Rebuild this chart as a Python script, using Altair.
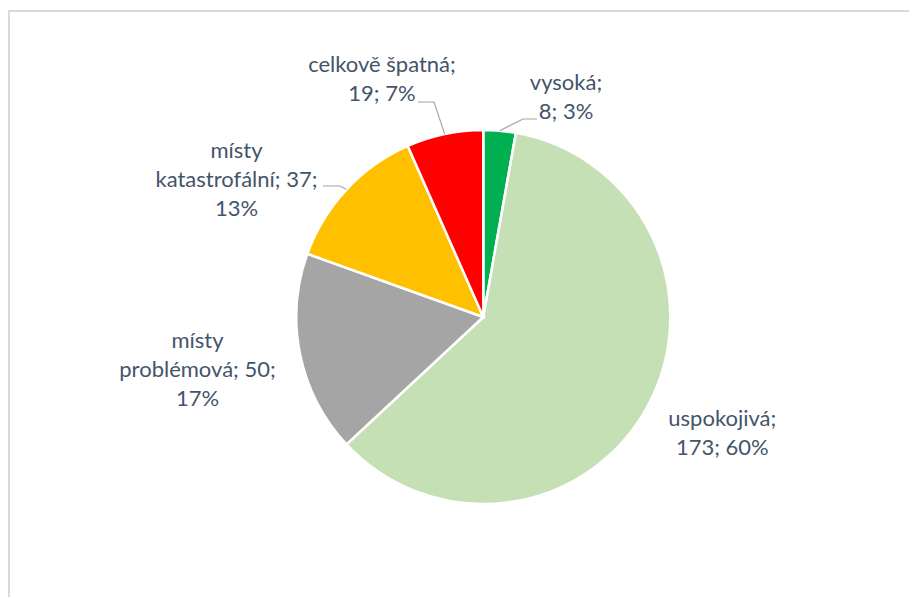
import math
import altair as alt
import pandas as pd

# ---- data ----
categories = ["vysoká", "uspokojivá", "místy problémová", "místy katastrofální", "celkově špatná"]
values = [8, 173, 50, 37, 19]
percents = ["3%", "60%", "17%", "13%", "7%"]
label_lines = [
    "vysoká;\n8; 3%",
    "uspokojivá;\n173; 60%",
    "místy\nproblémová; 50;\n17%",
    "místy\nkatastrofální; 37;\n13%",
    "celkově špatná;\n19; 7%",
]
colors = ["#00B050", "#C5E0B4", "#A5A5A5", "#FFC000", "#FF0000"]

# ---- layout (pixel space of the view) ----
W, H = 901, 587
CX, CY, R = 475.3, 307.0, 187.0
LH = 29
# label block centre offsets from the pie centre
label_dx = [82.7, 239.0, -285.8, -246.8, -101.3]
label_dy = [-220.0, 116.0, 53.0, -137.0, -237.5]
# leader line elbow/end offsets relative to the pie centre
leaders = {
    0: [(39.7, -198.0), (53.7, -198.0)],
    3: [(-143.3, -131.0), (-160.3, -131.0)],
    4: [(-49.3, -215.0), (-65.3, -215.0)],
}

total = sum(values)
pie = pd.DataFrame({
    "cat": categories,
    "value": values,
    "idx": list(range(len(values))),
})

# the first line of a multi-line text sits at y, so shift up by half the block
nlines = [t.count("\n") + 1 for t in label_lines]
lab = pd.DataFrame({
    "text": label_lines,
    "px": [CX + d for d in label_dx],
    "py": [CY + d - (n - 1) * LH / 2 for d, n in zip(label_dy, nlines)],
})

rows = []
cum = 0
mids = []
for v in values:
    mids.append((cum + v / 2) / total * 2 * math.pi)
    cum += v
for i, pts in leaders.items():
    a = mids[i]
    sx, sy = CX + R * math.sin(a), CY - R * math.cos(a)
    rows.append({"g": i, "o": 0, "px": sx, "py": sy})
    for k, (dx, dy) in enumerate(pts):
        rows.append({"g": i, "o": k + 1, "px": CX + dx, "py": CY + dy})
lead = pd.DataFrame(rows)

arc = alt.Chart(pie).mark_arc(stroke="white", strokeWidth=2.5).encode(
    theta=alt.Theta("value:Q", stack=True),
    order=alt.Order("idx:Q"),
    color=alt.Color("cat:N", scale=alt.Scale(domain=categories, range=colors), legend=None),
    x=alt.value(CX),
    y=alt.value(CY),
    radius=alt.value(R),
)

lines = alt.Chart(lead).mark_line(color="#A6A6A6", strokeWidth=1.2).encode(
    x=alt.X("px:Q", scale=None, axis=None),
    y=alt.Y("py:Q", scale=None, axis=None),
    detail="g:N",
    order="o:Q",
)

texts = alt.Chart(lab).mark_text(
    font="Lato", fontSize=22, color="#44546A", lineBreak="\n",
    lineHeight=LH, align="center", baseline="middle",
).encode(
    x=alt.X("px:Q", scale=None, axis=None),
    y=alt.Y("py:Q", scale=None, axis=None),
    text="text:N",
)

# chart frame (left and top edges visible in the reference)
frame_left = alt.Chart(pie).mark_rule(color="#D9D9D9", strokeWidth=1.5).encode(
    x=alt.value(0.75), y=alt.value(0), y2=alt.value(H + 20)
)
frame_top = alt.Chart(pie).mark_rule(color="#D9D9D9", strokeWidth=1.5).encode(
    x=alt.value(0), x2=alt.value(W + 20), y=alt.value(0.75)
)

chart = alt.layer(frame_left, frame_top, arc, lines, texts).properties(
    width=W, height=H,
    autosize=alt.AutoSizeParams(type="none"),
    padding={"left": 0, "top": 2, "right": 0, "bottom": 0},
).configure_view(stroke=None)

chart.save("out.html", embed_options={"renderer": "svg", "actions": False})
